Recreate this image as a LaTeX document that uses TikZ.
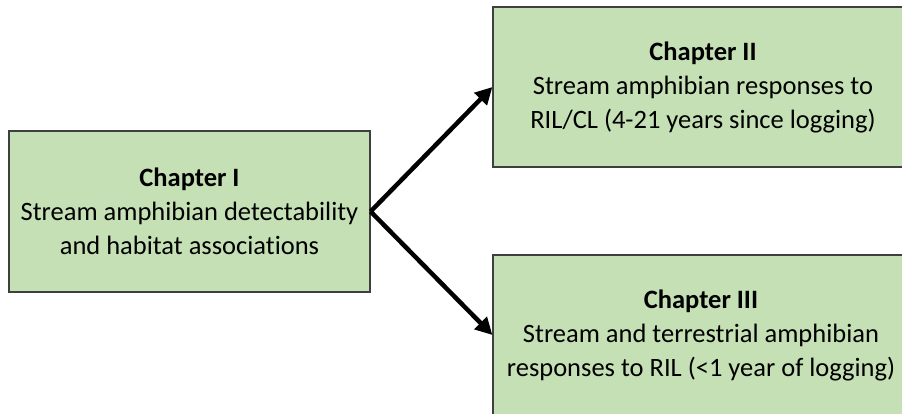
\documentclass[tikz,border=0pt]{standalone}
\usepackage{fontspec}
\setmainfont[Ligatures=NoCommon]{Carlito}
\usetikzlibrary{arrows.meta,positioning}
\usepackage{xcolor}
\definecolor{chapgreen}{HTML}{C5E0B4}
\definecolor{chapedge}{HTML}{3F3F3F}

\begin{document}
\begin{tikzpicture}[x=1pt, y=-1pt,
  chapbox/.style={rectangle, draw=chapedge, line width=1.2pt, fill=chapgreen, align=center, font=\fontsize{26.5}{34}\selectfont, inner sep=0pt},
  link/.style={line width=4.5pt, -{Triangle[length=17pt,width=17pt]}}]
  \useasboundingbox (0,0) rectangle (902,414);
  \clip (0,0) rectangle (902,414);
  \node[chapbox, minimum width=361pt, minimum height=161pt] (ch1) at (189.5,211.5) {\textbf{Chapter I}\\Stream amphibian detectability\\and habitat associations};
  \node[chapbox, minimum width=420pt, minimum height=160pt] (ch2) at (703,87) {\textbf{Chapter II}\\Stream amphibian responses to\\RIL/CL (4-21 years since logging)};
  \node[chapbox, minimum width=416pt, minimum height=160pt] (ch3) at (701,335) {\textbf{Chapter III}\\Stream and terrestrial amphibian\\responses to RIL (<1 year of logging)};
  \draw[link] (ch1.east) -- (ch2.west);
  \draw[link] (ch1.east) -- (ch3.west);
\end{tikzpicture}
\end{document}
